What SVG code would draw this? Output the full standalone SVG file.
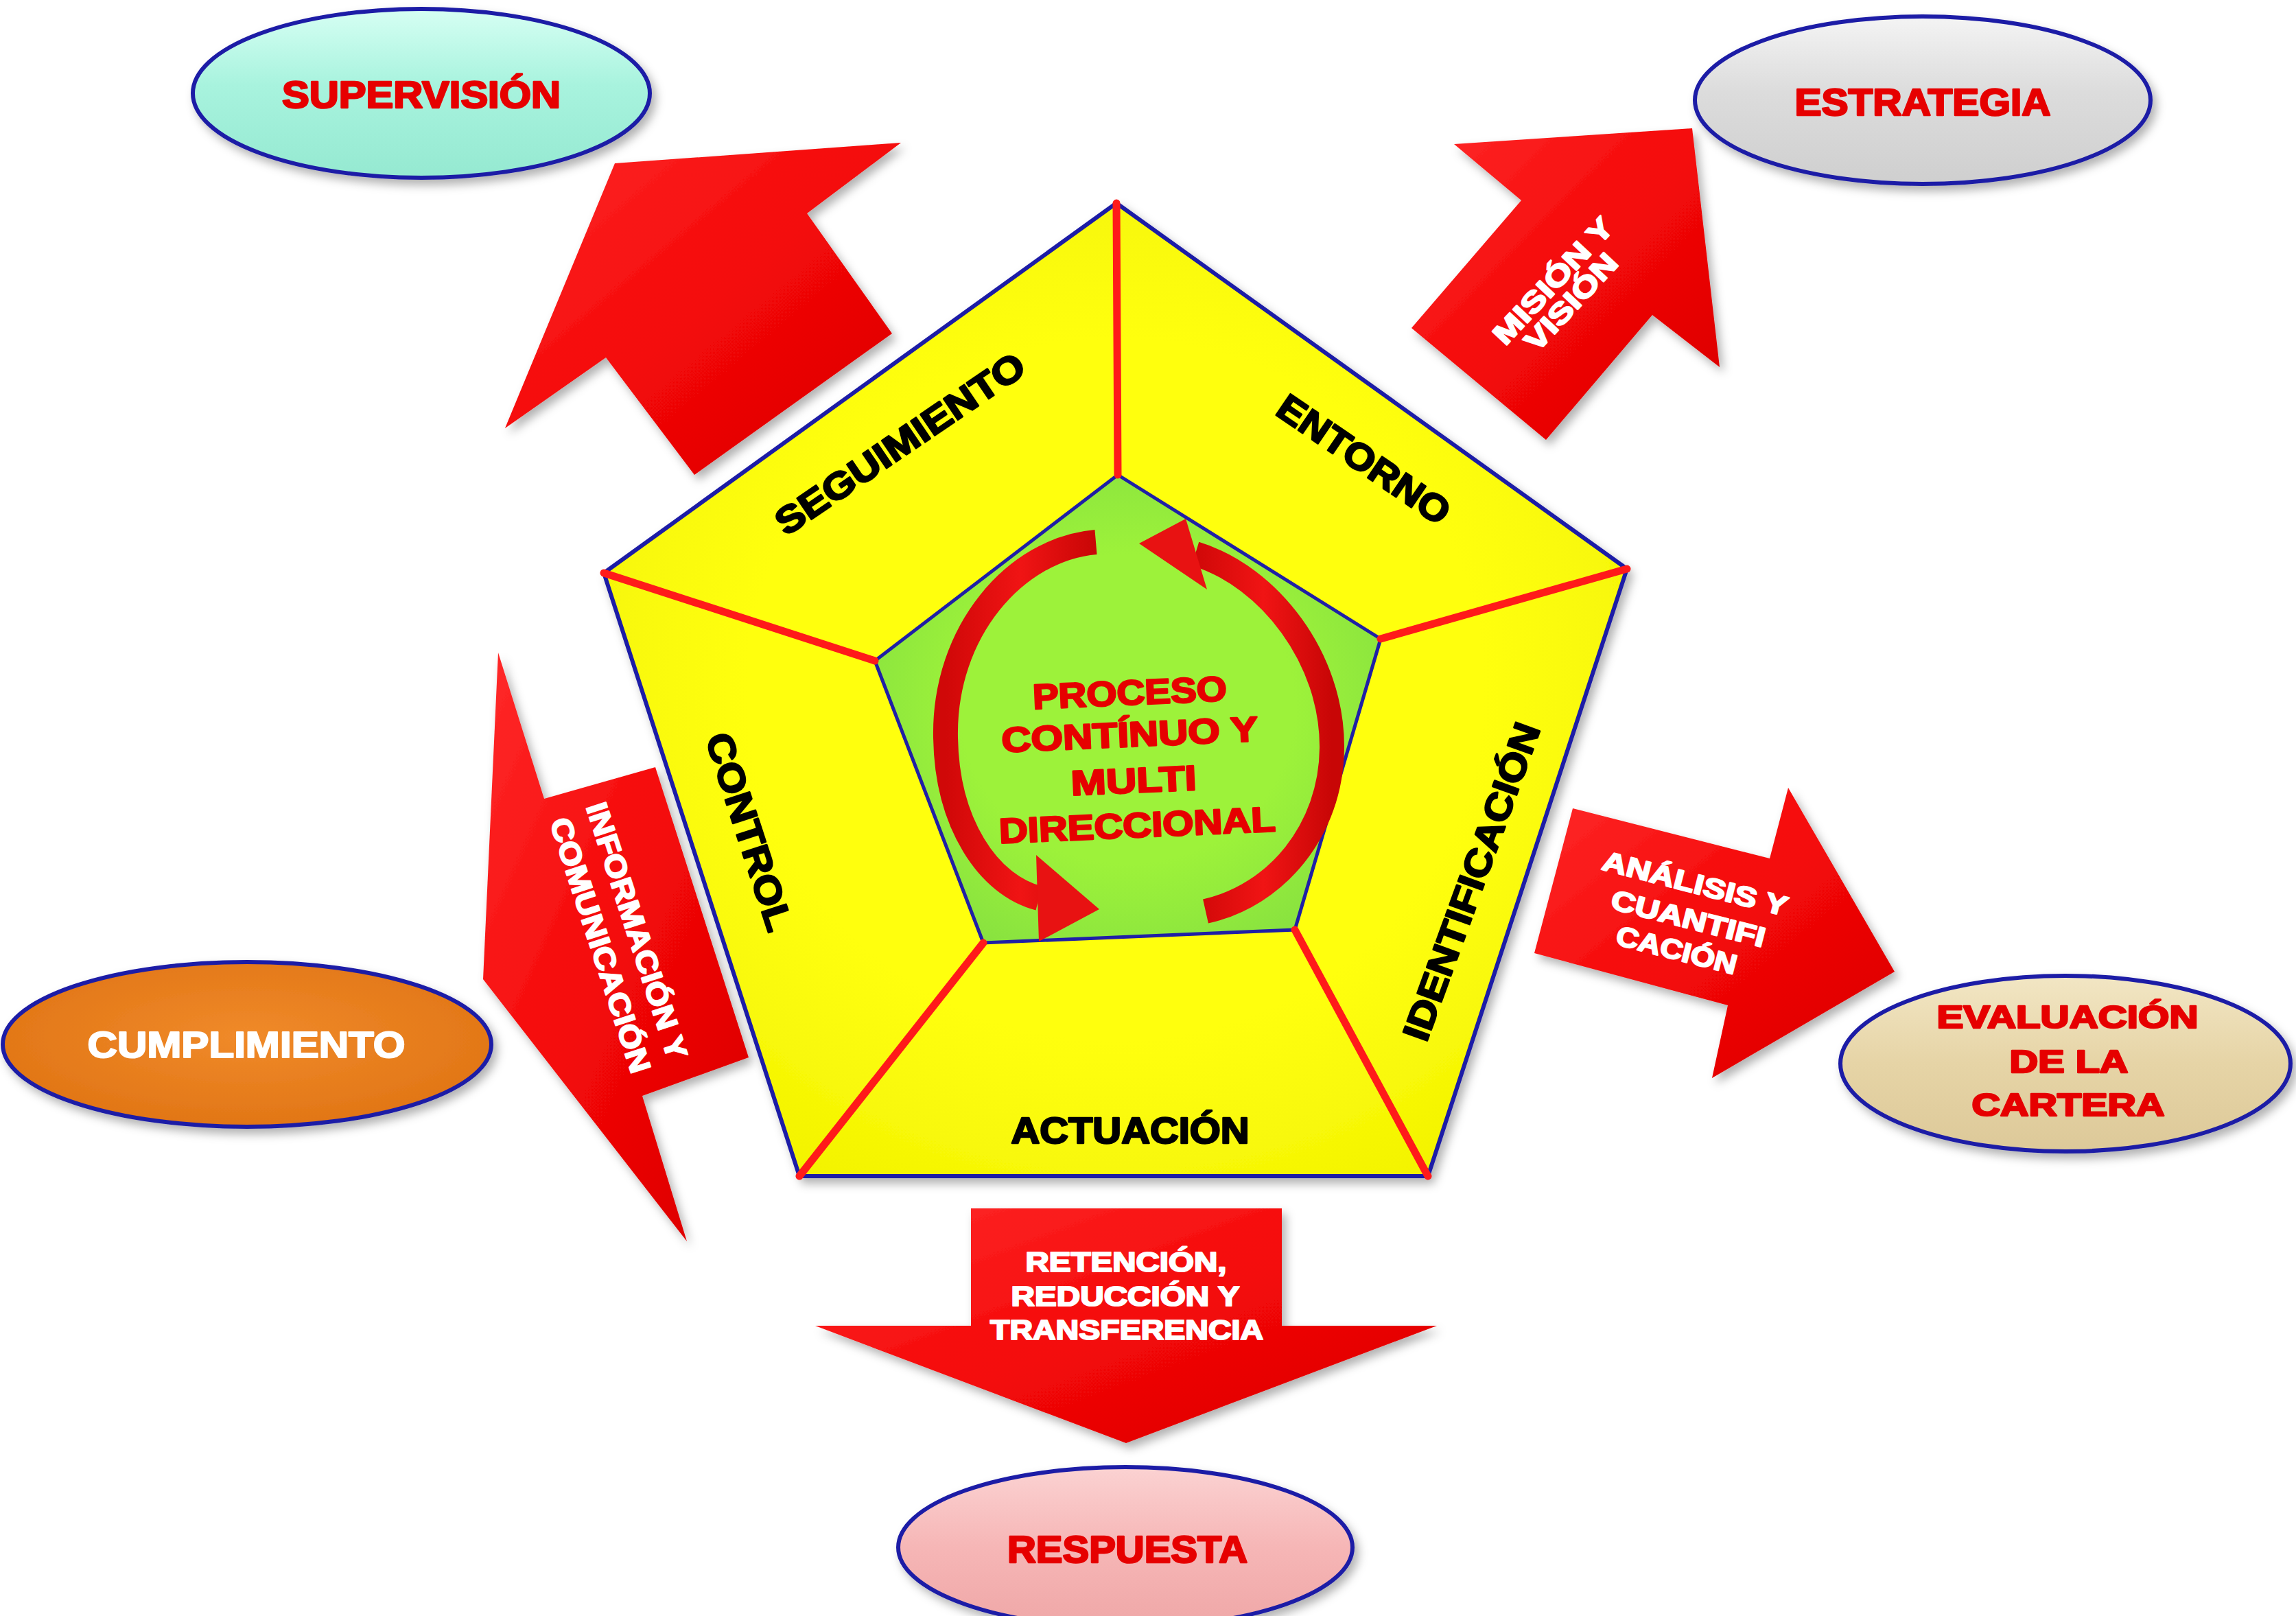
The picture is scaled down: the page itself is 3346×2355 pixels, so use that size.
<svg xmlns="http://www.w3.org/2000/svg" width="3346" height="2355" viewBox="0 0 3346 2355">
<defs>
<style>
text { font-family: "Liberation Sans", Arial, sans-serif; font-weight: bold; text-anchor: middle; stroke-linejoin: round; }
.red { fill: #e60000; stroke: #e60000; stroke-width: 2.6; }
.white { fill: #ffffff; stroke: #ffffff; stroke-width: 2.2; }
.black { fill: #000000; stroke: #000000; stroke-width: 2.6; }
.ell { stroke: #1f1fa6; stroke-width: 6; filter: url(#sh); }
.arrow { fill: url(#gArrow); filter: url(#sh); }
.radial { stroke: #ff1a1a; stroke-width: 11; stroke-linecap: round; fill: none; }
.arc { fill: none; stroke: url(#gArc); stroke-width: 36; stroke-linecap: butt; }
.head { fill: #e81212; }
</style>
<filter id="sh" x="-15%" y="-15%" width="135%" height="135%">
<feDropShadow dx="6" dy="8" stdDeviation="7" flood-color="#000" flood-opacity="0.3"/>
</filter>
<linearGradient id="gArrow" x1="0" y1="0" x2="1" y2="1">
<stop offset="0" stop-color="#ff2a2a"/>
<stop offset="0.5" stop-color="#f40808"/>
<stop offset="1" stop-color="#d80000"/>
</linearGradient>
<linearGradient id="gArc" x1="0" y1="0" x2="1" y2="0">
<stop offset="0" stop-color="#d00808"/>
<stop offset="0.5" stop-color="#f01414"/>
<stop offset="1" stop-color="#c80606"/>
</linearGradient>
<linearGradient id="gAqua" x1="0" y1="0" x2="0" y2="1">
<stop offset="0" stop-color="#d6fff3"/>
<stop offset="0.45" stop-color="#a8f3de"/>
<stop offset="1" stop-color="#95e9d1"/>
</linearGradient>
<linearGradient id="gGray" x1="0" y1="0" x2="0" y2="1">
<stop offset="0" stop-color="#f4f4f4"/>
<stop offset="0.45" stop-color="#dcdcdc"/>
<stop offset="1" stop-color="#cfcfcf"/>
</linearGradient>
<linearGradient id="gBeige" x1="0" y1="0" x2="0" y2="1">
<stop offset="0" stop-color="#f2e6c4"/>
<stop offset="0.5" stop-color="#e6d4a6"/>
<stop offset="1" stop-color="#ddc999"/>
</linearGradient>
<linearGradient id="gPink" x1="0" y1="0" x2="0" y2="1">
<stop offset="0" stop-color="#fbd2d2"/>
<stop offset="0.5" stop-color="#f6b6b6"/>
<stop offset="1" stop-color="#efa7a7"/>
</linearGradient>
<radialGradient id="gOrange" cx="0.5" cy="0.45" r="0.6">
<stop offset="0" stop-color="#f08a2a"/>
<stop offset="1" stop-color="#e07414"/>
</radialGradient>
<radialGradient id="gYellow" cx="0.5" cy="0.5" r="0.6">
<stop offset="0.6" stop-color="#ffff10"/>
<stop offset="1" stop-color="#f2f200"/>
</radialGradient>
<radialGradient id="gGreen" cx="0.5" cy="0.5" r="0.6">
<stop offset="0.55" stop-color="#9df23a"/>
<stop offset="1" stop-color="#86e040"/>
</radialGradient>
</defs>
<rect width="3346" height="2355" fill="#ffffff"/>

<g id="connectors">
<g id="arrow-supervision">
<polygon class="arrow" points="896,238 1313,208 1176,311 1300,486 1012,692 883,521 736,624"/>
</g>
<g id="arrow-mision">
<polygon class="arrow" points="2119,210 2466,187 2506,535 2408,459 2253,641 2057,478 2217,292"/>
<text class="white" font-size="42" textLength="235" lengthAdjust="spacingAndGlyphs" transform="translate(2274,419) rotate(-47)">MISIÓN Y</text>
<text class="white" font-size="42" textLength="177" lengthAdjust="spacingAndGlyphs" transform="translate(2300,450) rotate(-47)">VISIÓN</text>
</g>
<g id="arrow-informacion">
<polygon class="arrow" points="726,951 793,1164 955,1118 1091,1541 936,1597 1001,1809 704,1427"/>
<text class="white" font-size="43" textLength="390" lengthAdjust="spacingAndGlyphs" transform="translate(914,1361) rotate(72)">INFORMACIÓN Y</text>
<text class="white" font-size="43" textLength="388" lengthAdjust="spacingAndGlyphs" transform="translate(861,1382) rotate(72)">COMUNICACIÓN</text>
</g>
<g id="arrow-analisis">
<polygon class="arrow" points="2292,1178 2579,1251 2606,1148 2761,1416 2495,1571 2518,1465 2236,1389"/>
<text class="white" font-size="40" textLength="277" lengthAdjust="spacingAndGlyphs" transform="translate(2467,1301) rotate(14.3)">ANÁLISIS Y</text>
<text class="white" font-size="40" textLength="230" lengthAdjust="spacingAndGlyphs" transform="translate(2457,1352) rotate(14.3)">CUANTIFI</text>
<text class="white" font-size="40" textLength="180" lengthAdjust="spacingAndGlyphs" transform="translate(2440,1398) rotate(14.3)">CACIÓN</text>
</g>
<g id="arrow-retencion">
<polygon class="arrow" points="1415,1761 1868,1761 1868,1932 2094,1932 1641,2103 1188,1932 1415,1932"/>
<text class="white" font-size="40" x="1641" y="1853" textLength="293" lengthAdjust="spacingAndGlyphs">RETENCIÓN,</text>
<text class="white" font-size="40" x="1640" y="1903" textLength="333" lengthAdjust="spacingAndGlyphs">REDUCCIÓN Y</text>
<text class="white" font-size="40" x="1642" y="1952" textLength="398" lengthAdjust="spacingAndGlyphs">TRANSFERENCIA</text>
</g>
</g>

<g id="node-pentagon">
<polygon points="1627,296 2371,829 2081,1714 1165,1714 880,835" fill="url(#gYellow)" stroke="#1f1fa6" stroke-width="6" filter="url(#sh)"/>
<polygon points="1629,692 2012,931 1887,1355 1433,1374 1275,963" fill="url(#gGreen)" stroke="#1f1fa6" stroke-width="5"/>
<line class="radial" x1="1627" y1="296" x2="1629" y2="692"/>
<line class="radial" x1="2371" y1="829" x2="2012" y2="931"/>
<line class="radial" x1="2081" y1="1714" x2="1887" y2="1355"/>
<line class="radial" x1="1165" y1="1714" x2="1433" y2="1374"/>
<line class="radial" x1="880" y1="835" x2="1275" y2="963"/>
</g>

<g id="node-seguimiento">
<text class="black" font-size="54" textLength="427" lengthAdjust="spacingAndGlyphs" transform="translate(1322,662) rotate(-34.2)">SEGUIMIENTO</text>
</g>
<g id="node-entorno">
<text class="black" font-size="54" textLength="292" lengthAdjust="spacingAndGlyphs" transform="translate(1977,685) rotate(34.3)">ENTORNO</text>
</g>
<g id="node-identificacion">
<text class="black" font-size="54" textLength="488" lengthAdjust="spacingAndGlyphs" transform="translate(2162,1291) rotate(-70)">IDENTIFICACIÓN</text>
</g>
<g id="node-control">
<text class="black" font-size="54" textLength="300" lengthAdjust="spacingAndGlyphs" transform="translate(1074,1218) rotate(72)">CONTROL</text>
</g>
<g id="node-actuacion">
<text class="black" font-size="54" x="1647" y="1666" textLength="347" lengthAdjust="spacingAndGlyphs">ACTUACIÓN</text>
</g>

<g id="node-proceso">
<path class="arc" d="M 1597 790 C 1480 800 1375 920 1378 1075 C 1380 1200 1440 1290 1514 1309"/>
<polygon class="head" points="1510,1246 1602,1325 1514,1372"/>
<path class="arc" d="M 1757 1328 C 1860 1305 1940 1210 1941 1090 C 1942 960 1850 840 1742 807"/>
<polygon class="head" points="1728,756 1660,792 1759,859"/>
<text class="red" font-size="51" x="1647" y="1027" textLength="283" lengthAdjust="spacingAndGlyphs" transform="rotate(-2.5 1647 1027)">PROCESO</text>
<text class="red" font-size="51" x="1647" y="1088" textLength="374" lengthAdjust="spacingAndGlyphs" transform="rotate(-2.5 1647 1088)">CONTÍNUO Y</text>
<text class="red" font-size="51" x="1653" y="1155" textLength="183" lengthAdjust="spacingAndGlyphs" transform="rotate(-2.5 1653 1155)">MULTI</text>
<text class="red" font-size="51" x="1658" y="1220" textLength="403" lengthAdjust="spacingAndGlyphs" transform="rotate(-2.5 1658 1220)">DIRECCIONAL</text>
</g>

<g id="node-supervision">
<ellipse class="ell" cx="614" cy="136" rx="333" ry="123" fill="url(#gAqua)"/>
<text class="red" font-size="55" x="614" y="157" textLength="406" lengthAdjust="spacingAndGlyphs">SUPERVISIÓN</text>
</g>
<g id="node-estrategia">
<ellipse class="ell" cx="2802" cy="146" rx="332" ry="122" fill="url(#gGray)"/>
<text class="red" font-size="55" x="2802" y="168" textLength="373" lengthAdjust="spacingAndGlyphs">ESTRATEGIA</text>
</g>
<g id="node-cumplimiento">
<ellipse class="ell" cx="360" cy="1522" rx="356" ry="120" fill="url(#gOrange)"/>
<text class="white" font-size="54" x="359" y="1541" textLength="463" lengthAdjust="spacingAndGlyphs">CUMPLIMIENTO</text>
</g>
<g id="node-evaluacion">
<ellipse class="ell" cx="3010" cy="1550" rx="328" ry="128" fill="url(#gBeige)"/>
<text class="red" font-size="46" x="3013" y="1498" textLength="381" lengthAdjust="spacingAndGlyphs">EVALUACIÓN</text>
<text class="red" font-size="46" x="3015" y="1563" textLength="173" lengthAdjust="spacingAndGlyphs">DE LA</text>
<text class="red" font-size="46" x="3014" y="1626" textLength="281" lengthAdjust="spacingAndGlyphs">CARTERA</text>
</g>
<g id="node-respuesta">
<ellipse class="ell" cx="1640" cy="2255" rx="331" ry="117" fill="url(#gPink)"/>
<text class="red" font-size="55" x="1643" y="2277" textLength="350" lengthAdjust="spacingAndGlyphs">RESPUESTA</text>
</g>
</svg>
